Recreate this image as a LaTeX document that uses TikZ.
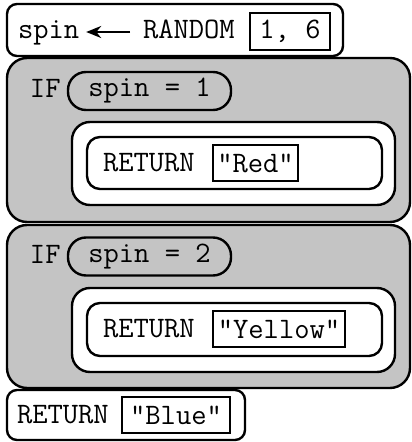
\documentclass[tikz,border=0pt]{standalone}
\usetikzlibrary{arrows.meta}
\definecolor{blkgray}{HTML}{C4C4C4}
\begin{document}
\begin{tikzpicture}[x=1pt,y=-1pt,
  every node/.style={inner sep=0pt, outer sep=0pt, font=\ttfamily\fontsize{29.7}{33}\selectfont},
  blk/.style={draw, line width=2.4pt, rounded corners=10pt, fill=white},
  grayblk/.style={draw, line width=2.4pt, rounded corners=20pt, fill=blkgray},
  outerblk/.style={draw, line width=2.4pt, rounded corners=18pt, fill=white},
  innerblk/.style={draw, line width=2.4pt, rounded corners=13pt, fill=white},
  condblk/.style={draw, line width=2.4pt, rounded corners=18pt, fill=blkgray},
  valbox/.style={draw, line width=2.4pt, fill=white},
  kw/.style={anchor=base west}
]
\useasboundingbox (0,0) rectangle (412,442);
% gray IF blocks
\node[grayblk, minimum width=403pt, minimum height=164pt] (if1) at (208.5,140) {};
\node[grayblk, minimum width=403pt, minimum height=163pt] (if2) at (208.5,306.5) {};
% assignment
\node[blk, minimum width=336pt, minimum height=52pt] (assign) at (175,30) {};
\node[kw] (spin) at (18,38) {spin};
\node[kw] (rnd) at (143,38) {RANDOM};
\node[valbox, minimum width=80pt, minimum height=37pt] (args) at (290,31.5) {1, 6};
\draw[line width=2.4pt, -{Stealth[length=15pt,width=12pt]}]
  ([xshift=-13pt,yshift=6pt]rnd.base west) -- ([xshift=7pt,yshift=6pt]spin.base east);
% IF 1
\node[kw] (if1kw) at (30,97) {IF};
\node[condblk, minimum width=163pt, minimum height=38pt] (cond1) at (149.5,91) {spin = 1};
\node[outerblk, minimum width=323pt, minimum height=83pt] (body1) at (233.5,163.5) {};
\node[innerblk, minimum width=295pt, minimum height=52pt] (ret1) at (234.5,163) {};
\node[kw] (ret1kw) at (103,171) {RETURN};
\node[valbox, minimum width=85pt, minimum height=36pt] (red) at (255.5,163) {"Red"};
% IF 2
\node[kw] (if2kw) at (30,263) {IF};
\node[condblk, minimum width=163pt, minimum height=38pt] (cond2) at (149.5,256.5) {spin = 2};
\node[outerblk, minimum width=323pt, minimum height=84pt] (body2) at (233.5,330) {};
\node[innerblk, minimum width=295pt, minimum height=53pt] (ret2) at (234.5,329.5) {};
\node[kw] (ret2kw) at (103,337) {RETURN};
\node[valbox, minimum width=132pt, minimum height=36pt] (yellow) at (279,329) {"Yellow"};
% final return
\node[blk, minimum width=238pt, minimum height=50pt] (ret3) at (126,415) {};
\node[kw] (ret3kw) at (17,423) {RETURN};
\node[valbox, minimum width=108pt, minimum height=36pt] (blue) at (176,415) {"Blue"};
\end{tikzpicture}
\end{document}
